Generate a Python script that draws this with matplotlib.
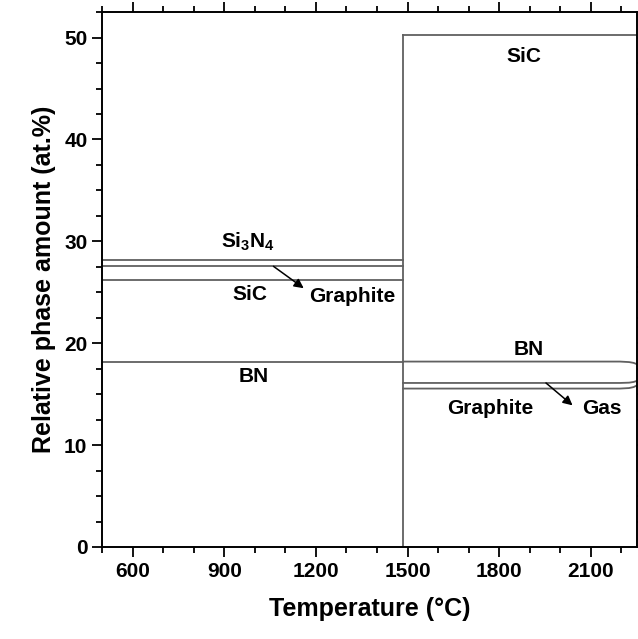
import numpy as np
import matplotlib
matplotlib.use("Agg")
import matplotlib.pyplot as plt
from matplotlib.ticker import MultipleLocator

plt.rcParams['font.family'] = ['Liberation Sans', 'DejaVu Sans']
plt.rcParams['font.weight'] = 'bold'
plt.rcParams['mathtext.fontset'] = 'custom'
plt.rcParams['mathtext.rm'] = 'Liberation Sans:bold'
plt.rcParams['mathtext.bf'] = 'Liberation Sans:bold'

# low temperature side: cumulative phase boundaries (at.%)
t_low = [500, 1485]
bn_low = [18.2, 18.2]
sic_low = [26.2, 26.2]
graphite_low = [27.55, 27.55]
si3n4_low = [28.15, 28.15]

# high temperature side
t_high = [1485, 2195, 2225, 2240, 2250]
graphite_high = [15.55, 15.55, 15.6, 15.7, 15.85]
gas_high = [16.1, 16.1, 16.13, 16.2, 16.3]
bn_high = [18.2, 18.2, 18.15, 18.07, 17.95]
sic_top = 50.3
t_split = 1485

line_kw = dict(color='#606060', lw=1.3)

fig = plt.figure(figsize=(6.38, 6.39), dpi=100)
ax = fig.add_axes([0.160, 0.144, 0.838, 0.837])

for y in (bn_low, sic_low, graphite_low, si3n4_low):
    ax.plot(t_low, y, **line_kw)
for y in (graphite_high, gas_high, bn_high):
    ax.plot(t_high, y, **line_kw)
ax.plot([t_split, t_high[-1]], [sic_top, sic_top], **line_kw)
ax.plot([t_split, t_split], [0, sic_top], **line_kw)

fs = 15
ax.text(1882, 48.1, 'SiC', fontsize=fs, ha='center', va='center')
ax.text(979, 30.0, r'$\mathrm{Si_3N_4}$', fontsize=fs, ha='center', va='center')
ax.text(985, 24.8, 'SiC', fontsize=fs, ha='center', va='center')
ax.text(1318, 24.6, 'Graphite', fontsize=fs, ha='center', va='center')
ax.text(996, 16.7, 'BN', fontsize=fs, ha='center', va='center')
ax.text(1898, 19.4, 'BN', fontsize=fs, ha='center', va='center')
ax.text(1770, 13.6, 'Graphite', fontsize=fs, ha='center', va='center')
ax.text(2136, 13.6, 'Gas', fontsize=fs, ha='center', va='center')

arrow_kw = dict(arrowstyle='-|>', color='black', lw=1.1, mutation_scale=14,
                shrinkA=0, shrinkB=0)
ax.annotate('', xy=(1160, 25.4), xytext=(1061, 27.55), arrowprops=arrow_kw)
ax.annotate('', xy=(2040, 13.9), xytext=(1953, 16.1), arrowprops=arrow_kw)

ax.set_xlim(500, 2250)
ax.set_ylim(0, 52.5)
ax.xaxis.set_major_locator(MultipleLocator(300))
ax.xaxis.set_minor_locator(MultipleLocator(100))
ax.yaxis.set_major_locator(MultipleLocator(10))
ax.yaxis.set_minor_locator(MultipleLocator(2.5))
ax.set_xticks(np.arange(600, 2101, 300))

ax.tick_params(which='both', direction='out', top=True, right=True, width=1.3)
ax.tick_params(which='major', length=7, labelsize=15)
ax.tick_params(which='minor', length=4)
for s in ax.spines.values():
    s.set_linewidth(1.4)

ax.set_xlabel('Temperature (\u00b0C)', fontsize=18, fontweight='bold', labelpad=12)
ax.set_ylabel('Relative phase amount (at.%)', fontsize=18, fontweight='bold', labelpad=6)

fig.savefig('out.png', dpi=100)
